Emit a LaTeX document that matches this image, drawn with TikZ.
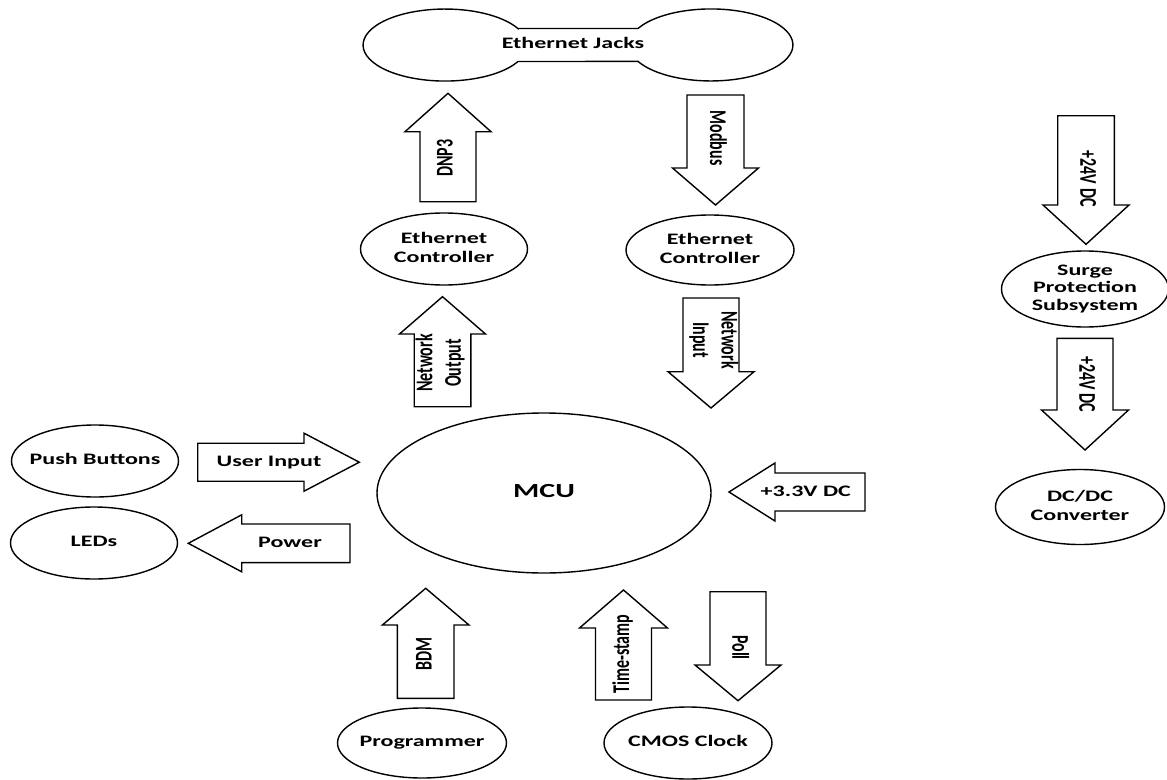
\documentclass[tikz,border=0pt]{standalone}
\usepackage{fontspec}
\setmainfont{Carlito}
\usetikzlibrary{shapes.geometric}
\newcommand\hs[1]{\scalebox{1.5}[1]{\begin{tabular}{@{}c@{}}#1\end{tabular}}}
\newcommand\vs[2]{\scalebox{1.5}[1]{\rotatebox{#1}{\begin{tabular}{@{}c@{}}#2\end{tabular}}}}
% vertical block arrow: cx, ytail, yheadbase, ytip, shaft half, head half
\newcommand\varr[6]{\draw[blk] ({#1-#5},#2) -- ({#1-#5},#3) -- ({#1-#6},#3) -- (#1,#4) -- ({#1+#6},#3) -- ({#1+#5},#3) -- ({#1+#5},#2) -- cycle;}
% horizontal block arrow: cy, xtail, xheadbase, xtip, shaft half, head half
\newcommand\harr[6]{\draw[blk] (#2,{#1-#5}) -- (#3,{#1-#5}) -- (#3,{#1-#6}) -- (#4,#1) -- (#3,{#1+#6}) -- (#3,{#1+#5}) -- (#2,{#1+#5}) -- cycle;}
\begin{document}
\begin{tikzpicture}[x=1pt,y=-1pt,line width=1.4pt,
  ell/.style={draw,ellipse,inner sep=0pt,fill=white},
  lbl/.style={font=\bfseries\fontsize{16}{19}\selectfont,inner sep=0pt},
  blk/.style={draw,fill=white,line join=miter}]
\fill[white] (0,0) rectangle (1167,779);
\useasboundingbox (0,0) rectangle (1167,779);

% Ethernet Jacks (two lobes joined by a bar)
\draw[fill=white] (518,28.5) -- (638,28.5)
  arc[start angle=152.8,end angle=-152.8,x radius=82pt,y radius=36pt]
  -- (518,61.5)
  arc[start angle=-27.2,end angle=-332.8,x radius=82pt,y radius=36pt] -- cycle;
\node[lbl] (jacks) at (573,45) {\hs{Ethernet Jacks}};

% ellipses
\node[ell,minimum width=167pt,minimum height=72pt] (ecl) at (444,249) {};
\node[lbl] (ecltxt) at (ecl) {\hs{Ethernet\\Controller}};
\node[ell,minimum width=168pt,minimum height=70pt] (ecr) at (710,250) {};
\node[lbl] (ecrtxt) at (ecr) {\hs{Ethernet\\Controller}};
\node[ell,minimum width=334pt,minimum height=160pt] (mcu) at (544,493) {};
\node[lbl,font=\bfseries\fontsize{20}{24}\selectfont] (mcutxt) at (mcu) {\hs{MCU}};
\node[ell,minimum width=167pt,minimum height=72pt] (push) at (95,461) {};
\node[lbl] (pushtxt) at (push) {\hs{Push Buttons}};
\node[ell,minimum width=167pt,minimum height=72pt] (leds) at (94,543) {};
\node[lbl] (ledstxt) at (leds) {\hs{LEDs}};
\node[ell,minimum width=167pt,minimum height=76pt] (surge) at (1085,289) {};
\node[lbl,font=\bfseries\fontsize{16}{17.5}\selectfont] (surgetxt) at (surge) {\hs{Surge\\Protection\\Subsystem}};
\node[ell,minimum width=169pt,minimum height=75pt] (dcdc) at (1080,507) {};
\node[lbl] (dcdctxt) at (dcdc) {\hs{DC/DC\\Converter}};
\node[ell,minimum width=169pt,minimum height=70pt] (prog) at (422,743) {};
\node[lbl] (progtxt) at (prog) {\hs{Programmer}};
\node[ell,minimum width=168pt,minimum height=72pt] (cmos) at (688,743) {};
\node[lbl] (cmostxt) at (cmos) {\hs{CMOS Clock}};

% vertical block arrows
\varr{448}{201.7}{131.7}{93.3}{28}{43}
\node[lbl] (dnp) at (447,158) {\vs{90}{DNP3}};
\varr{442.5}{406.7}{334}{296.7}{28.3}{43}
\node[lbl] (netout) at (441,363) {\vs{90}{Network\\Output}};
\varr{715.5}{95}{168}{205}{28.5}{43}
\node[lbl] (modbus) at (715.7,138) {\vs{-90}{Modbus}};
\varr{711}{298}{371.7}{408}{28}{43}
\node[lbl] (netin) at (713,340) {\vs{-90}{Network\\Input}};
\varr{1086}{115.7}{205}{244.3}{28.3}{43}
\node[lbl] (v24a) at (1086,178.7) {\vs{-90}{+24V DC}};
\varr{1085}{338.3}{410}{450}{28}{43.5}
\node[lbl] (v24b) at (1085,384) {\vs{-90}{+24V DC}};
\varr{425.7}{698.3}{625}{588.3}{28.3}{43.3}
\node[lbl] (bdm) at (426,654) {\vs{90}{BDM}};
\varr{623.5}{700}{628}{590}{28}{44}
\node[lbl] (tstamp) at (623.3,654) {\vs{90}{Time-stamp}};
\varr{738}{591.7}{665}{700.7}{28}{43}
\node[lbl] (poll) at (738,647.5) {\vs{-90}{Poll}};

% horizontal block arrows
\harr{462.2}{197.7}{304}{359.3}{19}{29}
\node[lbl] (uin) at (269,462.3) {\hs{User Input}};
\harr{543.3}{350}{241.7}{188.3}{19.3}{28.5}
\node[lbl] (pwr) at (290,543.3) {\hs{Power}};
\harr{492}{865}{775}{729}{19}{29}
\node[lbl] (v33) at (805.8,492.7) {\hs{+3.3V DC}};
\end{tikzpicture}
\end{document}
